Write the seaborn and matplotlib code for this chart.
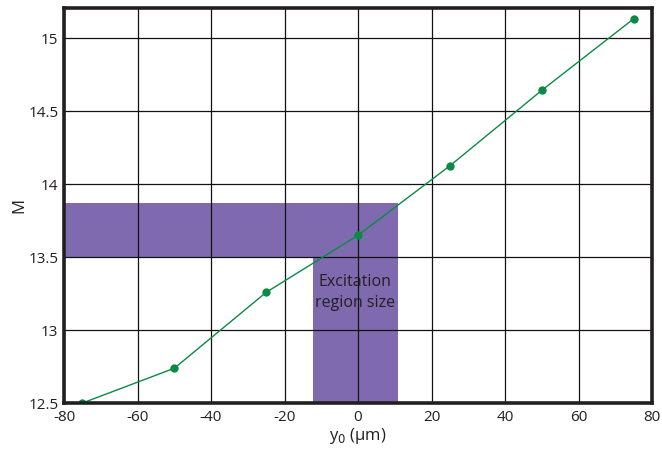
import matplotlib
matplotlib.use("Agg")
import matplotlib.pyplot as plt
import seaborn as sns
import pandas as pd

# Beam offset positions and measured M values
y0_um = [-75, -50, -25, 0, 25, 50, 75]
m_values = [12.50, 12.738, 13.258, 13.649, 14.125, 14.642, 15.132]

# Extent of the excitation region (x range) and corresponding M band
region_x = [-12.2, 10.8]
region_m = [13.5, 13.872]

x_ticks = [-80, -60, -40, -20, 0, 20, 40, 60, 80]
y_ticks = [12.5, 13, 13.5, 14, 14.5, 15]
y_tick_labels = ["12.5", "13", "13.5", "14", "14.5", "15"]

sns.set_theme(style="white")
plt.rcParams["font.family"] = ["Open Sans", "DejaVu Sans"]
plt.rcParams["axes.unicode_minus"] = False
text_color = "#231f20"
purple = "#7f6ab0"
green = "#0a8a45"

fig = plt.figure(figsize=(6.62, 4.5), dpi=100)
ax = fig.add_axes([0.0967, 0.1044, 0.8883, 0.8776])

ax.set_xlim(-80, 80)
ax.set_ylim(12.5, 15.205)

# Shaded excitation region: horizontal band and vertical band
ax.fill_between([-80, region_x[1]], region_m[0], region_m[1], color=purple, lw=0, zorder=1)
ax.fill_between(region_x, 12.5, region_m[1], color=purple, lw=0, zorder=1)

ax.set_xticks(x_ticks)
ax.set_yticks(y_ticks)
ax.set_yticklabels(y_tick_labels)
ax.grid(True, color="#111111", lw=0.9, zorder=2)
ax.set_axisbelow(False)

df = pd.DataFrame({"y0": y0_um, "M": m_values})
sns.lineplot(data=df, x="y0", y="M", ax=ax, color=green, lw=1.0,
             marker="o", markersize=6, markeredgewidth=0, zorder=4)

ax.text(-0.8, 13.255, "Excitation\nregion size", ha="center", va="center",
        fontsize=11.5, color=text_color, linespacing=1.45, zorder=5)

for s in ax.spines.values():
    s.set_color("#231f20")
    s.set_linewidth(2.6)
    s.set_zorder(6)

ax.tick_params(axis="x", length=0, pad=5, labelsize=11, colors=text_color)
ax.tick_params(axis="y", length=0, pad=4, labelsize=11, colors=text_color)
ax.set_xlabel("y$_0$ (\u03bcm)", fontsize=12, color=text_color, labelpad=1)
ax.set_ylabel("M", fontsize=12, color=text_color, labelpad=1)

fig.savefig("out.png", dpi=100)
